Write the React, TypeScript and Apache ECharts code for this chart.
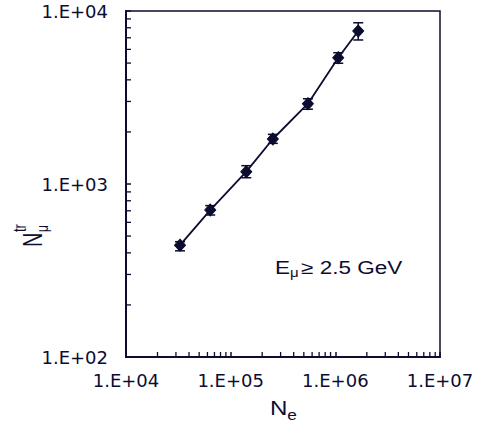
import React, { useEffect, useRef } from 'react';
import * as echarts from 'echarts';

// Shower size Ne vs truncated muon number
const ne = [32800, 63800, 141000, 253000, 547000, 1066000, 1655000];
const nmu = [443, 707, 1178, 1820, 2913, 5370, 7660];
const nmuLow = [411, 662, 1087, 1718, 2705, 4990, 6800];
const nmuHigh = [464, 750, 1276, 1936, 3110, 5740, 8550];

const xTickLabels = ['1.E+04', '1.E+05', '1.E+06', '1.E+07'];
const yTickLabels = ['1.E+02', '1.E+03', '1.E+04'];

const xMinorTicks = [
  2e4, 3e4, 4e4, 5e4, 6e4, 7e4, 8e4, 9e4,
  2e5, 3e5, 4e5, 5e5, 6e5, 7e5, 8e5, 9e5,
  2e6, 3e6, 4e6, 5e6, 6e6, 7e6, 8e6, 9e6,
];
const yMinorTicks = [200, 300, 400, 500, 600, 700, 800, 900, 2000, 3000, 4000, 5000, 6000, 7000, 8000, 9000];

const INK = '#0c0c30';
const FONT = 'Liberation Sans, Arial, sans-serif';

export default function App() {
  const ref = useRef<HTMLDivElement>(null);
  useEffect(() => {
    if (!ref.current) return;
    const chart = echarts.init(ref.current, null, { renderer: 'svg' });
    const option: any = {
      animation: false,
      backgroundColor: '#ffffff',
      grid: {
        left: 126, right: 43, top: 11, bottom: 68,
        show: true, borderColor: INK, borderWidth: 1.5,
      },
      xAxis: {
        type: 'log', logBase: 10, min: 1e4, max: 1e7,
        axisLine: { show: true, lineStyle: { color: INK, width: 2 } },
        axisTick: { show: true, inside: true, length: 5, lineStyle: { color: INK, width: 1.5 } },
        splitLine: { show: false },
        axisLabel: {
          color: INK, fontSize: 18, fontFamily: 'DejaVu Sans', margin: 14,
          formatter: (v: number) => xTickLabels[Math.round(Math.log10(v)) - 4] ?? '',
        },
      },
      yAxis: {
        type: 'log', logBase: 10, min: 100, max: 1e4,
        axisLine: { show: true, lineStyle: { color: INK, width: 2 } },
        axisTick: { show: true, inside: true, length: 5, lineStyle: { color: INK, width: 1.5 } },
        splitLine: { show: false },
        axisLabel: {
          color: INK, fontSize: 18, fontFamily: 'DejaVu Sans', margin: 18,
          formatter: (v: number) => yTickLabels[Math.round(Math.log10(v)) - 2] ?? '',
        },
      },
      series: [
        {
          type: 'custom',
          silent: true,
          data: xMinorTicks.map((v) => [v, 100]),
          renderItem: (_p: any, api: any) => {
            const p = api.coord([api.value(0), api.value(1)]);
            return { type: 'line', shape: { x1: p[0], y1: p[1], x2: p[0], y2: p[1] - 5 }, style: { stroke: INK, lineWidth: 1.3 } };
          },
          z: 1,
        },
        {
          type: 'custom',
          silent: true,
          data: yMinorTicks.map((v) => [1e4, v]),
          encode: { x: 0, y: 1 },
          renderItem: (_p: any, api: any) => {
            const p = api.coord([1e4, api.value(1)]);
            return { type: 'line', shape: { x1: p[0], y1: p[1], x2: p[0] + 5, y2: p[1] }, style: { stroke: INK, lineWidth: 1.3 } };
          },
          z: 1,
        },
        {
          type: 'custom',
          silent: true,
          data: ne.map((x, i) => [x, nmuLow[i], nmuHigh[i]]),
          encode: { x: 0, y: [1, 2] },
          renderItem: (_p: any, api: any) => {
            const x = api.value(0);
            const lo = api.coord([x, api.value(1)]);
            const hi = api.coord([x, api.value(2)]);
            const w = 5;
            const st = { stroke: INK, lineWidth: 1.5 };
            return {
              type: 'group',
              children: [
                { type: 'line', shape: { x1: lo[0], y1: lo[1], x2: hi[0], y2: hi[1] }, style: st },
                { type: 'line', shape: { x1: lo[0] - w, y1: lo[1], x2: lo[0] + w, y2: lo[1] }, style: st },
                { type: 'line', shape: { x1: hi[0] - w, y1: hi[1], x2: hi[0] + w, y2: hi[1] }, style: st },
              ],
            };
          },
          z: 2,
        },
        {
          type: 'line',
          data: ne.map((x, i) => [x, nmu[i]]),
          symbol: 'diamond',
          symbolSize: [11, 12],
          showSymbol: true,
          lineStyle: { color: INK, width: 1.8 },
          itemStyle: { color: INK, borderColor: INK },
          z: 3,
        },
      ],
      graphic: [
        // x-axis name N_e
        {
          type: 'group', x: 270, y: 398, scaleX: 1.15,
          children: [
            { type: 'text', x: 0, y: 0, style: { text: 'N', fontSize: 21, fontFamily: FONT, fill: INK, textAlign: 'left', textVerticalAlign: 'top' } },
            { type: 'text', x: 15, y: 9, style: { text: 'e', fontSize: 15, fontFamily: FONT, fill: INK, textAlign: 'left', textVerticalAlign: 'top' } },
          ],
        },
        // y-axis name N_mu^tr (rotated)
        {
          type: 'group', x: 32, y: 247, rotation: Math.PI / 2, scaleY: 1.35,
          children: [
            { type: 'text', x: 0, y: 0, style: { text: 'N', fontSize: 20, fontFamily: FONT, fill: INK, textAlign: 'left', textVerticalAlign: 'middle' } },
            { type: 'text', x: 15, y: 8, style: { text: 'μ', fontSize: 12, fontFamily: FONT, fill: INK, textAlign: 'left', textVerticalAlign: 'middle' } },
            { type: 'text', x: 15, y: -9, style: { text: 'tr', fontSize: 13, fontFamily: FONT, fill: INK, textAlign: 'left', textVerticalAlign: 'middle' } },
          ],
        },
        // annotation
        {
          type: 'group', x: 275, y: 268, scaleX: 1.25,
          children: [
            { type: 'text', x: 0, y: 0, style: { text: 'E', fontSize: 18, fontFamily: FONT, fill: INK, textAlign: 'left', textVerticalAlign: 'middle' } },
            { type: 'text', x: 12, y: 5, style: { text: 'μ', fontSize: 12, fontFamily: FONT, fill: INK, textAlign: 'left', textVerticalAlign: 'middle' } },
            { type: 'text', x: 21, y: 0, style: { text: '≥ 2.5 GeV', fontSize: 18, fontFamily: FONT, fill: INK, textAlign: 'left', textVerticalAlign: 'middle' } },
          ],
        },
      ],
    };
    chart.setOption(option);
    return () => chart.dispose();
  }, []);
  return (
    <div
      ref={ref}
      style={{ position: 'absolute', left: 0, top: 0, width: 483, height: 425, background: '#fff' }}
    />
  );
}
